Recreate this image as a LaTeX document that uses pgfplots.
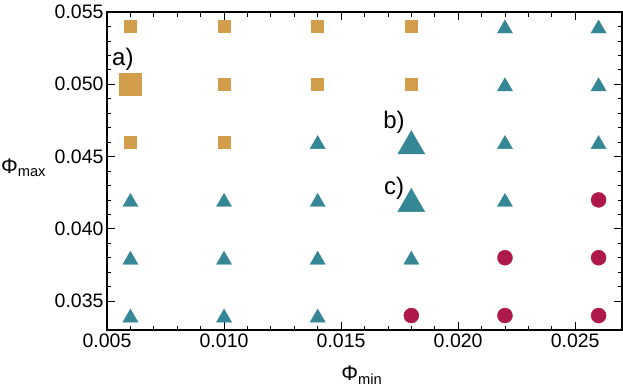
\documentclass[border=0pt]{standalone}
\usepackage{pgfplots}
\pgfplotsset{compat=1.18}
\usepackage{fontspec}
\setmainfont{Liberation Sans}
\definecolor{cOr}{RGB}{211,158,76}
\definecolor{cTe}{RGB}{54,135,150}
\definecolor{cRe}{RGB}{174,24,74}
\begin{document}
\begin{tikzpicture}
\begin{axis}[
  name=ax,
  scale only axis, width=515pt, height=318pt,
  xmin=0.005, xmax=0.027, ymin=0.033, ymax=0.055,
  xtick={0.005,0.010,0.015,0.020,0.025},
  ytick={0.035,0.040,0.045,0.050,0.055},
  minor tick num=4,
  tick align=inside,
  major tick length=8pt, minor tick length=4.5pt,
  every tick/.style={black, line width=0.8pt},
  axis line style={black, line width=1.2pt},
  scaled ticks=false,
  xticklabel style={/pgf/number format/.cd, fixed, fixed zerofill, precision=3, assume math mode=true},
  yticklabel style={/pgf/number format/.cd, fixed, fixed zerofill, precision=3, assume math mode=true},
  tick label style={font=\fontsize{19.5}{20}\selectfont},
  xlabel={Φ\textsubscript{min}}, ylabel={Φ\textsubscript{max}},
  every axis x label/.style={at={(axis description cs:0.495,-0.142)},anchor=center,font=\fontsize{21}{22}\selectfont},
  every axis y label/.style={at={(axis description cs:-0.162,0.51)},anchor=center,font=\fontsize{21}{22}\selectfont},
  clip=false,
]
\addplot[only marks, mark=square*, mark size=6pt, color=cOr] coordinates {
(0.006,0.054)(0.010,0.054)(0.014,0.054)(0.018,0.054)
(0.010,0.050)(0.014,0.050)(0.018,0.050)
(0.006,0.046)(0.010,0.046)};
\addplot[only marks, mark=square*, mark size=11pt, color=cOr] coordinates {(0.006,0.050)};
\addplot[only marks, mark=triangle*, mark size=8.7pt, color=cTe, mark options={yshift=-2.2pt}] coordinates {
(0.022,0.054)(0.026,0.054)(0.022,0.050)(0.026,0.050)
(0.014,0.046)(0.022,0.046)(0.026,0.046)
(0.006,0.042)(0.010,0.042)(0.014,0.042)(0.022,0.042)
(0.006,0.038)(0.010,0.038)(0.014,0.038)(0.018,0.038)
(0.006,0.034)(0.010,0.034)(0.014,0.034)};
\addplot[only marks, mark=triangle*, mark size=15.5pt, color=cTe, mark options={yshift=-4pt}] coordinates {(0.018,0.046)(0.018,0.042)};
\addplot[only marks, mark=*, mark size=7.5pt, color=cRe] coordinates {
(0.026,0.042)(0.022,0.038)(0.026,0.038)(0.018,0.034)(0.022,0.034)(0.026,0.034)};
\node[font=\fontsize{24}{25}\selectfont] at (axis cs:0.00568,0.0517) {a)};
\node[font=\fontsize{24}{25}\selectfont] at (axis cs:0.01726,0.0474) {b)};
\node[font=\fontsize{24}{25}\selectfont] at (axis cs:0.01726,0.0428) {c)};
\end{axis}
\pgfresetboundingbox
\path[use as bounding box] ([xshift=-107pt,yshift=-56pt]ax.south west) rectangle ([xshift=1pt,yshift=12pt]ax.north east);
\end{tikzpicture}
\end{document}
